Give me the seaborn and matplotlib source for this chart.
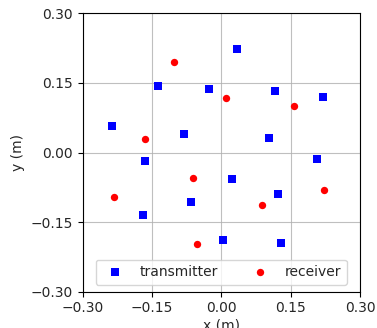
import matplotlib
matplotlib.use("Agg")
import matplotlib.pyplot as plt
import seaborn as sns
import pandas as pd

tx_x = [0.035, -0.137, -0.027, 0.117, 0.219, -0.236, -0.080, 0.104,
        -0.164, 0.206, 0.023, 0.123, -0.065, -0.170, 0.004, 0.129]
tx_y = [0.223, 0.143, 0.138, 0.133, 0.120, 0.058, 0.040, 0.031,
        -0.018, -0.014, -0.058, -0.090, -0.106, -0.135, -0.188, -0.195]
rx_x = [-0.102, 0.010, 0.157, -0.164, -0.062, -0.232, 0.221, 0.087, -0.053]
rx_y = [0.196, 0.118, 0.100, 0.030, -0.056, -0.095, -0.081, -0.114, -0.197]
ticks = [-0.30, -0.15, 0.00, 0.15, 0.30]

sns.set_style("ticks")
plt.rcParams['font.family'] = ['DejaVu Sans']

fig = plt.figure(figsize=(3.77, 3.28), dpi=100)
ax = fig.add_axes([0.219, 0.111, 0.736, 0.848])

tx = pd.DataFrame({"x": tx_x, "y": tx_y})
rx = pd.DataFrame({"x": rx_x, "y": rx_y})
sns.scatterplot(data=tx, x="x", y="y", ax=ax, marker="s", color="blue",
                s=28, linewidth=0, label="transmitter", zorder=3)
sns.scatterplot(data=rx, x="x", y="y", ax=ax, marker="o", color="red",
                s=28, linewidth=0, label="receiver", zorder=3)

ax.set_xlim(-0.30, 0.30)
ax.set_ylim(-0.30, 0.30)
ax.set_xticks(ticks)
ax.set_yticks(ticks)
ax.set_xticklabels([f"{t:.2f}".replace("-", "\u2212") for t in ticks])
ax.set_yticklabels([f"{t:.2f}".replace("-", "\u2212") for t in ticks])
ax.grid(True, color="#b0b0b0", linewidth=0.8, alpha=0.8)
ax.tick_params(labelsize=10, direction="out", length=3.5, width=0.8, color="black")
for sp in ax.spines.values():
    sp.set_color("black")
    sp.set_linewidth(0.8)
ax.set_xlabel("x (m)", fontsize=10, labelpad=2)
ax.set_ylabel("y (m)", fontsize=10)
ax.legend(loc="lower center", ncol=2, fontsize=10, scatterpoints=1)

fig.savefig("out.png", dpi=100)
